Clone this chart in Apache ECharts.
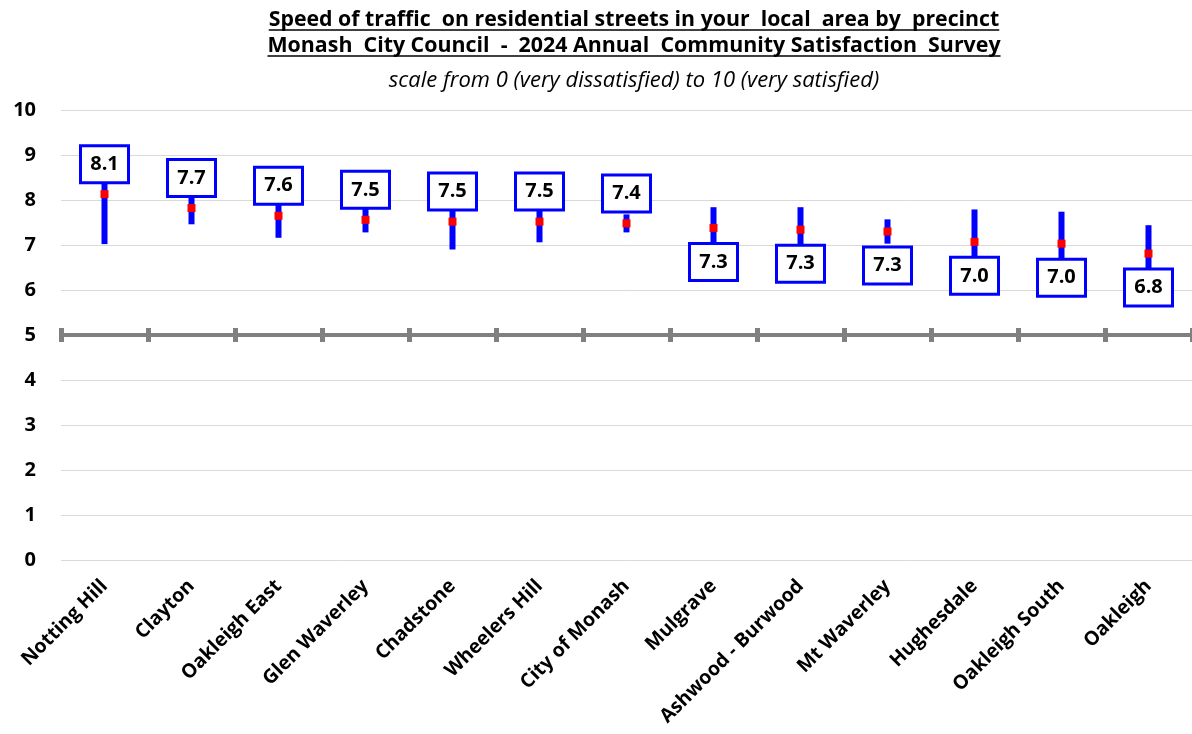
<!DOCTYPE html>
<html>
<head>
<meta charset="utf-8">
<script src="https://cdn.jsdelivr.net/npm/echarts@6/dist/echarts.min.js"></script>
<style>
  html, body { margin: 0; padding: 0; background: #fff; }
  #chart { width: 1192px; height: 734px; }
</style>
</head>
<body>
<div id="chart"></div>
<script>
// ---- data ----
const categories = ['Notting Hill', 'Clayton', 'Oakleigh East', 'Glen Waverley', 'Chadstone', 'Wheelers Hill', 'City of Monash', 'Mulgrave', 'Ashwood - Burwood', 'Mt Waverley', 'Hughesdale', 'Oakleigh South', 'Oakleigh'];
const scores = [8.1, 7.7, 7.6, 7.5, 7.5, 7.5, 7.4, 7.3, 7.3, 7.3, 7.0, 7.0, 6.8];
const means  = [8.13, 7.82, 7.65, 7.56, 7.52, 7.52, 7.48, 7.38, 7.34, 7.30, 7.07, 7.03, 6.81];
const lower  = [7.02, 7.46, 7.16, 7.28, 6.90, 7.06, 7.28, 6.92, 6.84, 7.03, 6.35, 6.32, 6.18];
const upper  = [9.20, 8.18, 8.14, 7.84, 8.14, 7.98, 7.68, 7.84, 7.84, 7.57, 7.79, 7.74, 7.44];
const yTicks = [0, 1, 2, 3, 4, 5, 6, 7, 8, 9, 10];
const titleLines = [
  'Speed of traffic  on residential streets in your  local  area by  precinct',
  'Monash  City Council  -  2024 Annual  Community Satisfaction  Survey',
  'scale from 0 (very dissatisfied) to 10 (very satisfied)'
];
const labelsAboveCount = 7; // first precincts have their label box above the point

// ---- chart ----
const FONT = '"Open Sans", Lato, sans-serif';
const chart = echarts.init(document.getElementById('chart'), null, { renderer: 'canvas' });

function measure(text, font) {
  const c = document.createElement('canvas').getContext('2d');
  c.font = font;
  return c.measureText(text).width;
}

const cx = 634;
const tStyle = ['bold', 'bold', 'italic'];
const tTarget = [731, 733, 550];
const tY = [20, 46, 81];
const graphics = [];
titleLines.forEach((t, i) => {
  const base = measure(t, tStyle[i] + ' 20px ' + FONT);
  const size = Math.min(22, Math.max(16, 20 * tTarget[i] / base));
  const font = tStyle[i] + ' ' + size.toFixed(2) + 'px ' + FONT;
  graphics.push({
    type: 'text', x: cx, y: tY[i], z: 10,
    style: { text: t, font: font, fill: '#000', textAlign: 'center', textVerticalAlign: 'middle' }
  });
  if (i < 2) {
    const w = measure(t, font);
    graphics.push({
      type: 'line', z: 10,
      shape: { x1: cx - w / 2, y1: tY[i] + 10, x2: cx + w / 2, y2: tY[i] + 10 },
      style: { stroke: '#000', lineWidth: 1.5 }
    });
  }
});

const xCommon = { type: 'category', data: categories, gridIndex: 0 };

const option = {
  backgroundColor: '#fff',
  animation: false,
  graphic: graphics,
  grid: { left: 61, top: 110, width: 1132, height: 450, containLabel: false },
  xAxis: [
    Object.assign({}, xCommon, {
      position: 'bottom',
      axisLine: { show: false },
      axisTick: { show: false },
      axisLabel: {
        interval: 0, rotate: 45, margin: 23,
        fontFamily: FONT, fontWeight: 'bold', fontSize: 19.5, color: '#000'
      },
      splitLine: { show: false }
    }),
    Object.assign({}, xCommon, {
      position: 'bottom', offset: -225,
      axisLine: { show: true, lineStyle: { color: '#808080', width: 4 } },
      axisTick: { show: true, interval: 0, length: 7, lineStyle: { color: '#808080', width: 5 } },
      axisLabel: { show: false },
      splitLine: { show: false }
    }),
    Object.assign({}, xCommon, {
      position: 'bottom', offset: -225,
      axisLine: { show: false },
      axisTick: { show: true, inside: true, interval: 0, length: 7, lineStyle: { color: '#808080', width: 5 } },
      axisLabel: { show: false },
      splitLine: { show: false }
    })
  ],
  yAxis: {
    type: 'value', min: yTicks[0], max: yTicks[yTicks.length - 1], interval: 1,
    axisLine: { show: false },
    axisTick: { show: false },
    axisLabel: { margin: 25, fontFamily: FONT, fontWeight: 'bold', fontSize: 20, color: '#000' },
    splitLine: { lineStyle: { color: '#d9d9d9', width: 1 } }
  },
  series: [
    {
      type: 'bar', stack: 'err', xAxisIndex: 0, barWidth: 6, silent: true,
      itemStyle: { color: 'transparent' },
      data: lower
    },
    {
      type: 'bar', stack: 'err', xAxisIndex: 0, barWidth: 6, silent: true,
      itemStyle: { color: '#0000ff' },
      data: upper.map((u, i) => +(u - lower[i]).toFixed(3))
    },
    {
      type: 'scatter', xAxisIndex: 0, symbol: 'rect', symbolSize: 8, z: 5,
      itemStyle: { color: '#ff0000', opacity: 1 },
      data: means.map((m, i) => ({
        value: m,
        label: {
          show: true,
          position: i < labelsAboveCount ? 'top' : 'bottom',
          distance: i < labelsAboveCount ? 26 : 30
        }
      })),
      label: {
        formatter: p => scores[p.dataIndex].toFixed(1),
        fontFamily: FONT, fontWeight: 'bold', fontSize: 20, color: '#000', opacity: 1,
        backgroundColor: '#fff', borderColor: '#0000ff', borderWidth: 3,
        width: 45, height: 34, lineHeight: 34, align: 'center', verticalAlign: 'middle'
      },
      emphasis: { disabled: true }
    }
  ]
};
chart.setOption(option);
</script>
</body>
</html>
